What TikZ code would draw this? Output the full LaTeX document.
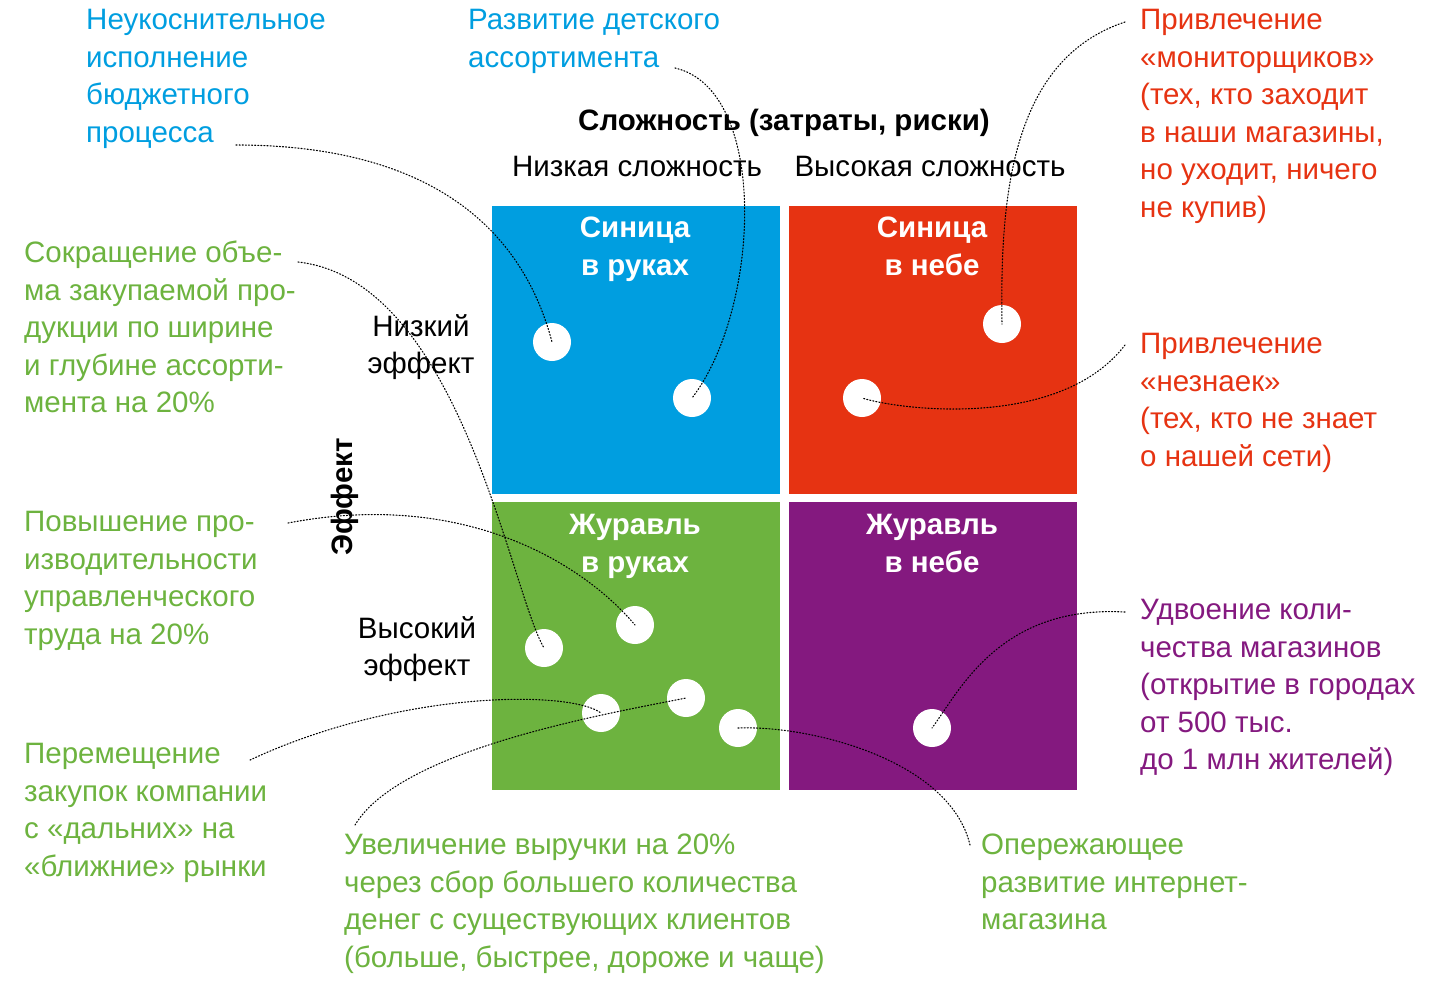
\documentclass[tikz,border=0pt]{standalone}
\usepackage{fontspec}
\setmainfont{Liberation Sans}
\definecolor{cblue}{RGB}{0,158,224}
\definecolor{cred}{RGB}{230,51,18}
\definecolor{cgreen}{RGB}{109,179,63}
\definecolor{cpurple}{RGB}{132,25,127}
\begin{document}
\begin{tikzpicture}[x=1pt,y=-1pt,
  txt/.style={font=\fontsize{29.5}{37.5}\selectfont,align=left,anchor=north west,inner sep=0},
  ctxt/.style={font=\fontsize{29.5}{37.5}\selectfont,align=center,anchor=north,inner sep=0},
  qlab/.style={font=\fontsize{29.5}{37.5}\selectfont\bfseries,align=center,anchor=north,inner sep=0,text=white},
  dot/.style={circle,fill=white,minimum size=38pt,inner sep=0},
  lead/.style={line width=1.1pt,dash pattern=on 1.1pt off 2pt,line cap=round}]
\useasboundingbox (0,0) rectangle (1439,986);
\fill[cblue] (492,206) rectangle (780,494);
\fill[cred] (789,206) rectangle (1077,494);
\fill[cgreen] (492,502) rectangle (780,790);
\fill[cpurple] (789,502) rectangle (1077,790);
\node[qlab] (q1) at (635,217) {Синица\\в руках};
\node[qlab] (q2) at (932,217) {Синица\\в небе};
\node[qlab] (q3) at (635,514) {Журавль\\в руках};
\node[qlab] (q4) at (932,514) {Журавль\\в небе};
\node[ctxt,font=\fontsize{29.5}{37.5}\selectfont\bfseries] (h) at (784,109) {Сложность (затраты, риски)};
\node[ctxt] (lo) at (637,156) {Низкая сложность};
\node[ctxt] (hi) at (930,156) {Высокая сложность};
\node[ctxt] (le) at (421,314) {Низкий\\эффект};
\node[ctxt] (he) at (417,616) {Высокий\\эффект};
\node[font=\fontsize{29.5}{37.5}\selectfont\bfseries,rotate=90,inner sep=0] (ef) at (345,497) {Эффект};
\foreach \n/\p in {d1/{552,342},d2/{692,398},d3/{1002,324},d4/{862,398},d5/{635,625},d6/{544,648},d7/{601,713},d8/{686,698},d9/{738,728},d10/{932,728}}
  \node[dot] (\n) at (\p) {};
\node[txt,text=cblue] (t1) at (86,9) {Неукоснительное\\исполнение\\бюджетного\\процесса};
\node[txt,text=cblue] (t2) at (468,9) {Развитие детского\\ассортимента};
\node[txt,text=cred] (t3) at (1140,9) {Привлечение\\«мониторщиков»\\(тех, кто заходит\\в наши магазины,\\но уходит, ничего\\не купив)};
\node[txt,text=cred] (t4) at (1140,333) {Привлечение\\«незнаек»\\(тех, кто не знает\\о нашей сети)};
\node[txt,text=cgreen] (t5) at (24,241) {Сокращение объе-\\ма закупаемой про-\\дукции по ширине\\и глубине ассорти-\\мента на 20\%};
\node[txt,text=cgreen] (t6) at (24,511) {Повышение про-\\изводительности\\управленческого\\труда на 20\%};
\node[txt,text=cgreen] (t7) at (24,743) {Перемещение\\закупок компании\\с «дальних» на\\«ближние» рынки};
\node[txt,text=cgreen] (t8) at (344,834) {Увеличение выручки на 20\%\\через сбор большего количества\\денег с существующих клиентов\\(больше, быстрее, дороже и чаще)};
\node[txt,text=cgreen] (t9) at (981,834) {Опережающее\\развитие интернет-\\магазина};
\node[txt,text=cpurple] (t10) at (1140,599) {Удвоение коли-\\чества магазинов\\(открытие в городах\\от 500 тыс.\\до 1 млн жителей)};
\coordinate (e1) at (236,145); \coordinate (e2) at (675,68);
\coordinate (e3) at (1125,22); \coordinate (e4) at (1125,345);
\coordinate (e5) at (298,262); \coordinate (e6) at (288,523);
\coordinate (e7) at (250,760); \coordinate (e8) at (355,825);
\coordinate (e9) at (970,845); \coordinate (e10) at (1125,612);
\draw[lead] (e1) .. controls (420,145) and (520,220) .. (d1.center);
\draw[lead] (e2) .. controls (770,90) and (760,310) .. (d2.center);
\draw[lead] (e3) .. controls (1010,60) and (1000,200) .. (d3.center);
\draw[lead] (e4) .. controls (1060,430) and (900,410) .. (d4.center);
\draw[lead] (e5) .. controls (460,280) and (510,590) .. (d6.center);
\draw[lead] (e6) .. controls (460,490) and (580,560) .. (d5.center);
\draw[lead] (e7) .. controls (400,690) and (570,690) .. (d7.center);
\draw[lead] (e8) .. controls (400,750) and (600,715) .. (d8.center);
\draw[lead] (e9) .. controls (950,760) and (810,725) .. (d9.center);
\draw[lead] (e10) .. controls (1000,605) and (960,690) .. (d10.center);
\end{tikzpicture}
\end{document}
